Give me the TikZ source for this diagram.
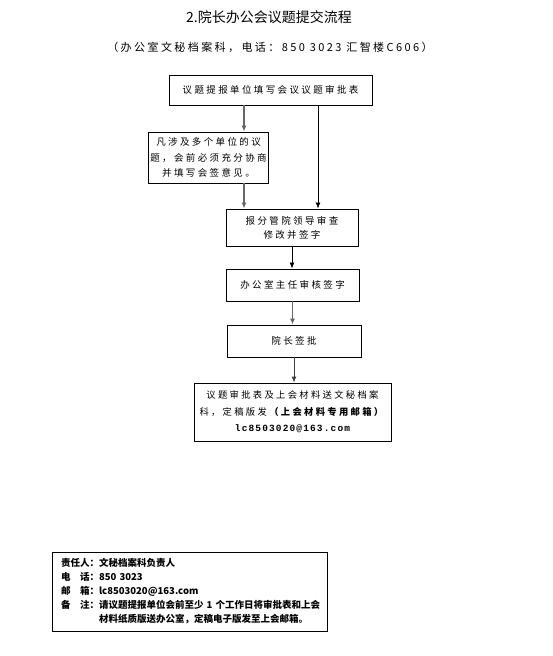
\documentclass[tikz,border=0pt]{standalone}
\usepackage{fontspec}
\setmainfont{Noto Sans CJK SC}
\newfontfamily\cjkwide[LetterSpace=25]{Noto Sans CJK SC}
\newfontfamily\cjksub[LetterSpace=22]{Noto Sans CJK SC}
\newfontfamily\mailfont[LetterSpace=12]{Liberation Mono}
\usetikzlibrary{positioning, arrows.meta, calc}

\begin{document}
\begin{tikzpicture}[
  x=1pt, y=-1pt,
  align=center,
  % Box styles
  flowbox/.style={draw, rectangle, line width=0.9pt, inner sep=2pt, font=\cjkwide\fontsize{9.5}{15.5}\selectfont},
  notebox/.style={draw, rectangle, line width=0.9pt, inner xsep=9pt, align=left, font=\bfseries\fontsize{9.5}{14}\selectfont},
  % Arrow styles
  arr/.style={draw, -{Latex[length=6pt, width=5pt]}, line width=0.8pt},
  garr/.style={arr, draw=black!60, line width=1.2pt}
]
  \useasboundingbox (0,0) rectangle (553,656);

  % ==========================================
  % TITLE
  % ==========================================
  \node[font=\fontsize{14}{16}\selectfont] (title) at (269,17) {2.院长办公会议题提交流程};
  \node[font=\cjksub\fontsize{11}{13}\selectfont] (subtitle) at (270,47) {（办公室文秘档案科，电话：850 3023 汇智楼C606）};

  % ==========================================
  % FLOW BOXES
  % ==========================================
  \node[flowbox, minimum width=203, minimum height=30] (tianbiao) at (270.5,90) {议题提报单位填写会议议题审批表};
  \node[flowbox, minimum width=119, minimum height=51] (huiqian) at (208.5,157.5) {凡涉及多个单位的议\\题，会前必须充分协商\\并填写会签意见。};
  \node[flowbox, minimum width=132, minimum height=37, font=\cjkwide\fontsize{9.5}{14}\selectfont] (shencha) at (292,227.5) {报分管院领导审查\\修改并签字};
  \node[flowbox, minimum width=133, minimum height=32] (zhuren) at (292.5,285) {办公室主任审核签字};
  \node[flowbox, minimum width=134, minimum height=32] (qianpi) at (294,341) {院长签批};
  \node[flowbox, minimum width=197, minimum height=58, font=\cjkwide\fontsize{9.3}{16.5}\selectfont] (songjiao) at (292.5,412)
    {议题审批表及上会材料送文秘档案\\科，定稿版发\textbf{（上会材料专用邮箱）}\\{\mailfont\bfseries\fontsize{9.5}{16.5}\selectfont lc8503020@163.com}};

  % ==========================================
  % ARROWS
  % ==========================================
  \coordinate (lx) at (244,0);
  \coordinate (rx) at (318,0);
  \draw[garr] (tianbiao.south -| lx) -- (huiqian.north -| lx);
  \draw[arr] (tianbiao.south -| rx) -- (shencha.north -| rx);
  \draw[garr] (huiqian.south -| lx) -- (shencha.north -| lx);
  \draw[arr] (shencha.south) -- (zhuren.north -| shencha.south);
  \draw[garr] (zhuren.south) -- (qianpi.north -| zhuren.south);
  \draw[garr, draw=black!75, line width=0.9pt] (qianpi.south) -- (songjiao.north -| qianpi.south);

  % ==========================================
  % NOTE BOX
  % ==========================================
  \node[notebox, text width=257, minimum height=79] (beizhu) at (189.5,591.5) {
    责任人：文秘档案科负责人\\
    电\quad 话：850 3023\\
    邮\quad 箱：lc8503020@163.com\\
    \mbox{备\quad 注：请议题提报单位会前至少 1 个工作日将审批表和上会}\\
    \hspace*{38pt}材料纸质版送办公室，定稿电子版发至上会邮箱。
  };

\end{tikzpicture}
\end{document}
